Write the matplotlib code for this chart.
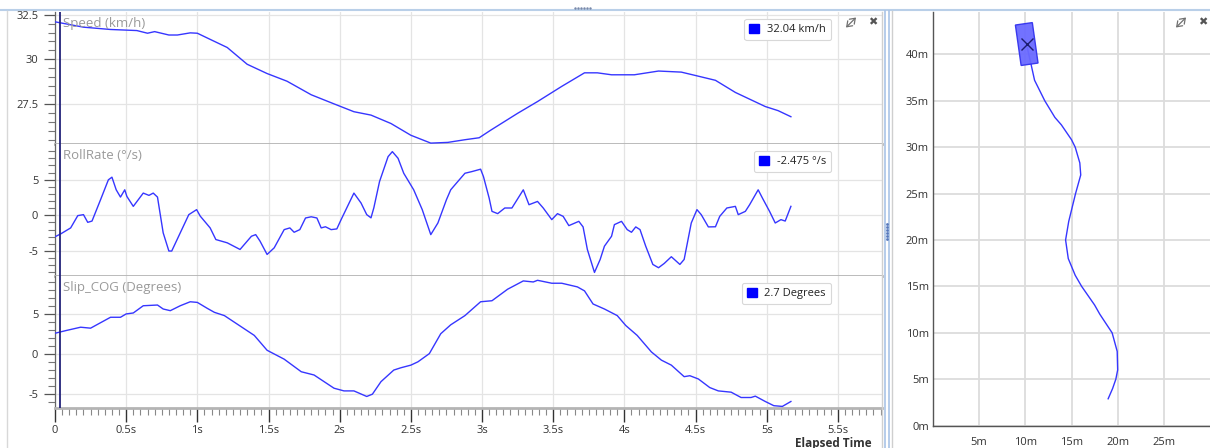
import numpy as np
import matplotlib
matplotlib.use("Agg")
import matplotlib.pyplot as plt
from matplotlib.patches import Patch, Rectangle, FancyArrowPatch
from matplotlib.lines import Line2D

plt.rcParams['font.family'] = ['Open Sans', 'DejaVu Sans']
plt.rcParams['axes.unicode_minus'] = False

# ---------------- data ----------------
speed_t = [0.00, 0.20, 0.39, 0.575, 0.65, 0.70, 0.80, 0.86, 0.95, 1.00, 1.11, 1.21, 1.35, 1.49,
           1.63, 1.80, 1.96, 2.10, 2.22, 2.36, 2.50, 2.64, 2.76, 2.88, 2.98, 3.06, 3.25, 3.39,
           3.56, 3.72, 3.81, 3.91, 4.07, 4.24, 4.40, 4.50, 4.64, 4.78, 4.99, 5.08, 5.17]
speed_v = [32.10, 31.80, 31.67, 31.61, 31.46, 31.55, 31.36, 31.36, 31.48, 31.46, 31.04, 30.66,
           29.72, 29.20, 28.77, 28.01, 27.50, 27.06, 26.87, 26.40, 25.74, 25.30, 25.34, 25.49,
           25.60, 26.02, 26.97, 27.63, 28.48, 29.24, 29.24, 29.13, 29.13, 29.34, 29.28, 29.09,
           28.82, 28.14, 27.35, 27.12, 26.78]

roll_t = [0.00, 0.04, 0.11, 0.16, 0.20, 0.23, 0.26, 0.32, 0.375, 0.40, 0.43, 0.46, 0.49, 0.505,
          0.55, 0.62, 0.66, 0.69, 0.72, 0.76, 0.80, 0.82, 0.88, 0.94, 0.995, 1.02, 1.09, 1.13,
          1.21, 1.30, 1.36, 1.38, 1.41, 1.44, 1.49, 1.54, 1.61, 1.65, 1.68, 1.72, 1.76, 1.80,
          1.84, 1.87, 1.90, 1.94, 1.98, 2.01, 2.10, 2.15, 2.19, 2.22, 2.24, 2.28, 2.34, 2.37,
          2.41, 2.45, 2.52, 2.58, 2.64, 2.69, 2.75, 2.78, 2.80, 2.88, 2.93, 2.99, 3.01, 3.05,
          3.07, 3.11, 3.16, 3.21, 3.29, 3.33, 3.39, 3.43, 3.49, 3.53, 3.57, 3.61, 3.68, 3.71,
          3.74, 3.79, 3.83, 3.86, 3.91, 3.93, 3.98, 4.02, 4.05, 4.08, 4.11, 4.15, 4.20, 4.24,
          4.28, 4.33, 4.39, 4.42, 4.47, 4.51, 4.54, 4.59, 4.64, 4.67, 4.72, 4.78, 4.80, 4.85,
          4.88, 4.94, 4.97, 5.02, 5.06, 5.10, 5.13, 5.17]
roll_v = [-3.0, -2.6, -1.76, -0.04, 0.10, -0.98, -0.80, 2.19, 4.98, 5.35, 3.58, 2.56, 3.58, 2.65,
          1.26, 3.12, 2.80, 3.12, 2.56, -2.45, -5.0, -5.0, -2.45, 0.10, 0.80, -0.10, -1.76, -3.39,
          -3.85, -4.78, -3.39, -2.93, -2.70, -3.60, -5.48, -4.55, -2.0, -1.76, -2.37, -2.0, -0.37,
          -0.20, -0.37, -1.76, -1.60, -2.0, -1.90, -0.60, 3.12, 1.73, 0.10, -0.35, 1.06, 4.74, 8.23,
          8.93, 8.0, 5.9, 3.58, 0.80, -2.70, -1.07, 2.19, 3.58, 4.05, 5.9, 6.14, 6.47, 5.44, 2.42,
          0.56, 0.24, 1.03, 1.03, 3.58, 1.49, 1.95, 1.03, -0.60, 0.24, -0.14, -1.44, -0.84, -1.62,
          -4.78, -8.0, -6.18, -4.32, -2.93, -1.30, -0.84, -2.0, -2.37, -1.62, -2.0, -4.32, -6.88,
          -7.34, -6.74, -5.80, -6.88, -6.18, -1.07, 0.80, 0.10, -1.62, -1.60, -0.14, 1.03, 1.26,
          0.10, 0.56, 1.49, 3.58, 2.42, 0.56, -1.07, -0.60, -0.80, 1.26]

slip_t = [0.00, 0.08, 0.18, 0.25, 0.39, 0.46, 0.50, 0.55, 0.62, 0.72, 0.76, 0.81, 0.88, 0.95,
          1.00, 1.07, 1.12, 1.19, 1.26, 1.40, 1.49, 1.61, 1.73, 1.82, 1.96, 2.03, 2.10, 2.19,
          2.23, 2.29, 2.38, 2.43, 2.50, 2.55, 2.63, 2.71, 2.78, 2.88, 2.99, 3.07, 3.18, 3.29,
          3.36, 3.39, 3.49, 3.56, 3.67, 3.72, 3.78, 3.86, 3.95, 4.01, 4.09, 4.19, 4.26, 4.33,
          4.42, 4.46, 4.52, 4.60, 4.66, 4.75, 4.82, 4.89, 4.92, 4.99, 5.05, 5.11, 5.17]
slip_v = [2.60, 2.95, 3.36, 3.24, 4.61, 4.61, 5.03, 5.15, 6.06, 6.15, 5.65, 5.44, 6.06, 6.56,
          6.48, 5.73, 5.23, 4.82, 3.99, 2.33, 0.46, -0.66, -2.24, -2.65, -4.31, -4.65, -4.65,
          -5.35, -5.06, -3.49, -2.03, -1.74, -1.41, -0.99, 0.04, 2.54, 3.66, 4.82, 6.56, 6.69,
          8.14, 9.18, 9.05, 9.26, 8.89, 8.89, 8.43, 7.93, 6.28, 5.65, 4.82, 3.57, 2.33, 0.25,
          -0.78, -1.41, -2.86, -2.74, -3.15, -4.23, -4.65, -4.81, -5.48, -5.48, -5.31, -5.98,
          -6.51, -6.60, -5.98]

panel_titles = ["Speed (km/h)", "RollRate (°/s)", "Slip_COG (Degrees)"]
cursor_labels = ["32.04 km/h", "-2.475 °/s", "2.7 Degrees"]
cursor_time = 0.035

x_ticks = [0, 0.5, 1, 1.5, 2, 2.5, 3, 3.5, 4, 4.5, 5, 5.5]
x_tick_labels = ["0", "0.5s", "1s", "1.5s", "2s", "2.5s", "3s", "3.5s", "4s", "4.5s", "5s", "5.5s"]
y_ticks = [[27.5, 30, 32.5], [-5, 0, 5], [-5, 0, 5]]
y_tick_labels = [["27.5", "30", "32.5"], ["-5", "0", "5"], ["-5", "0", "5"]]
y_minor_step = [0.5, 1, 1]
y_limits = [(25.25, 32.65), (-8.5, 10.0), (-6.8, 9.8)]

path_x = [18.97, 19.45, 19.8, 20.0, 19.95, 19.4, 18.07, 17.5, 16.1, 15.4, 14.65, 14.36, 14.7,
          15.44, 16.0, 15.9, 15.4, 15.0, 13.9, 13.2, 12.1, 11.0, 10.6, 10.1]
path_y = [2.9, 4.0, 5.0, 6.0, 8.0, 10.0, 12.0, 13.0, 15.0, 16.2, 18.0, 20.0, 22.0, 25.0, 27.0,
          28.3, 30.0, 30.8, 32.4, 33.2, 35.0, 37.2, 39.0, 41.2]
vehicle_center = (10.15, 41.1)
vehicle_length = 4.4
vehicle_width = 1.85
vehicle_heading_deg = 8.1
map_ticks = [5, 10, 15, 20, 25]
map_tick_labels = ["5m", "10m", "15m", "20m", "25m"]
map_yticks = [0, 5, 10, 15, 20, 25, 30, 35, 40]
map_ytick_labels = ["0m", "5m", "10m", "15m", "20m", "25m", "30m", "35m", "40m"]

# ---------------- figure ----------------
W, H = 1210, 448
fig = plt.figure(figsize=(W / 100, H / 100), dpi=100)
fig.patch.set_facecolor("white")

def fx(px):
    return px / W

def fy(py):
    return 1 - py / H

left_px, right_px = 55, 882
panel_edges = [(12, 144), (144, 276), (276, 408)]
line_color = "#3636ff"
tick_color = "#333333"

series = [(speed_t, speed_v), (roll_t, roll_v), (slip_t, slip_v)]
axes = []
for i, (top, bot) in enumerate(panel_edges):
    ax = fig.add_axes([fx(left_px), fy(bot), fx(right_px - left_px), (bot - top) / H])
    axes.append(ax)
    t, v = series[i]
    ax.plot(t, v, color=line_color, lw=1.0, zorder=3)
    ax.set_xlim(0, 5.81)
    ax.set_ylim(*y_limits[i])
    ax.set_xticks(x_ticks)
    ax.set_xticks(np.arange(0, 5.81, 0.05), minor=True)
    ax.set_yticks(y_ticks[i])
    ax.set_yticklabels(y_tick_labels[i])
    lo, hi = y_limits[i]
    st = y_minor_step[i]
    ax.set_yticks(np.arange(np.ceil(lo / st) * st, hi, st), minor=True)
    ax.grid(True, which="major", color="#e4e4e4", lw=0.9, zorder=0)
    ax.axvline(cursor_time, color="#23237a", lw=1.3, zorder=4)
    ax.tick_params(axis="y", which="major", length=8, width=0.9, color="#555555",
                   labelsize=8, labelcolor=tick_color, pad=4)
    ax.tick_params(axis="y", which="minor", length=5, width=0.8, color="#777777")
    for s in ["top", "right"]:
        ax.spines[s].set_visible(False)
    ax.spines["left"].set_color("#666666")
    ax.spines["left"].set_linewidth(0.9)
    ax.spines["bottom"].set_color("#b4b4b4")
    ax.spines["bottom"].set_linewidth(2.0)
    ax.text(0.0097, 0.915, panel_titles[i], transform=ax.transAxes, fontsize=9.5,
            color="#9a9a9a", va="center", ha="left", zorder=5)
    leg = ax.legend(handles=[Patch(facecolor="#0000ff", edgecolor="#0000ff")],
                    labels=[cursor_labels[i]], loc="upper right",
                    bbox_to_anchor=(0.945, 0.99), fontsize=8, handlelength=0.9,
                    handleheight=0.9, handletextpad=0.7, borderpad=0.45,
                    fancybox=True, framealpha=1.0, edgecolor="#d8d8d8")
    leg.get_frame().set_linewidth(0.8)
    leg.get_texts()[0].set_color("#222222")
    if i < 2:
        ax.tick_params(axis="x", which="both", length=0, labelbottom=False)
    else:
        ax.set_xticklabels(x_tick_labels)
        ax.tick_params(axis="x", which="major", length=10, width=1.0, color="#333333",
                       labelsize=8, labelcolor=tick_color, pad=2)
        ax.tick_params(axis="x", which="minor", length=5, width=0.8, color="#888888")

# right border of left area
fig.add_artist(Line2D([fx(882), fx(882)], [fy(12), fy(448)], color="#d0d0d0", lw=1.0))
fig.text(fx(872), fy(443), "Elapsed Time", fontsize=8.5, fontweight="bold",
         color="#333333", ha="right", va="center")

# ---------------- map panel ----------------
axm = fig.add_axes([fx(933), fy(425.7), fx(W - 933), (425.7 - 12) / H])
axm.plot(path_x, path_y, color=line_color, lw=1.0, zorder=3)
axm.set_xlim(0, 30)
axm.set_ylim(0, 44.55)
axm.set_xticks(map_ticks)
axm.set_xticklabels(map_tick_labels)
axm.set_yticks(map_yticks)
axm.set_yticklabels(map_ytick_labels)
axm.grid(True, color="#dcdcdc", lw=1.3, zorder=0)
axm.tick_params(axis="both", length=0, labelsize=8, labelcolor=tick_color)
axm.tick_params(axis="x", pad=8)
axm.tick_params(axis="y", pad=3)
for s in ["top", "right"]:
    axm.spines[s].set_visible(False)
axm.spines["left"].set_color("#555555")
axm.spines["bottom"].set_color("#555555")
axm.spines["left"].set_linewidth(1.0)
axm.spines["bottom"].set_linewidth(1.0)
cx, cy = vehicle_center
veh = Rectangle((cx - vehicle_width / 2, cy - vehicle_length / 2), vehicle_width, vehicle_length,
                angle=vehicle_heading_deg, rotation_point="center", facecolor="#6a6aff",
                edgecolor="#3333ee", lw=1.0, alpha=0.95, zorder=4)
axm.add_patch(veh)
axm.plot([cx], [cy], marker="x", color="#1c1c70", markersize=8, mew=1.0, zorder=5)

# ---------------- window chrome ----------------
fig.add_artist(Line2D([0, 1], [fy(10.5), fy(10.5)], color="#b9cfe8", lw=1.5))
fig.add_artist(Line2D([fx(7), fx(7)], [fy(11), 0], color="#d8d8d8", lw=1.0))
fig.add_artist(Line2D([fx(885), fx(885)], [fy(11), 0], color="#a9c3e6", lw=1.2))
fig.add_artist(Line2D([fx(888.5), fx(888.5)], [fy(11), 0], color="#a9c3e6", lw=1.2))
fig.add_artist(Line2D([fx(891.5), fx(891.5)], [fy(11), 0], color="#cfcfcf", lw=1.0))
for k in range(6):
    fig.add_artist(Line2D([fx(886.8)], [fy(224 + 3 * k)], marker="s", markersize=0.9,
                          color="#5577bb", lw=0))
for k in range(6):
    fig.add_artist(Line2D([fx(575 + 3 * k)], [fy(8.5)], marker="s", markersize=0.7,
                          color="#7788aa", lw=0))
# expand icons (double-headed diagonal arrow, no font glyph available) and close icons
for xpx in (851, 1181):
    arr = FancyArrowPatch((fx(xpx - 5), fy(27.5)), (fx(xpx + 5), fy(17.5)),
                          transform=fig.transFigure,
                          arrowstyle="<->,head_length=0.35,head_width=0.25",
                          mutation_scale=10, color="#707070", lw=0.9,
                          shrinkA=0, shrinkB=0)
    fig.add_artist(arr)
for xpx in (873, 1203):
    fig.text(fx(xpx), fy(22), "✖", fontsize=8, color="#555555", ha="center", va="center",
             family="DejaVu Sans")

fig.savefig("out.png", dpi=100, facecolor="white")
